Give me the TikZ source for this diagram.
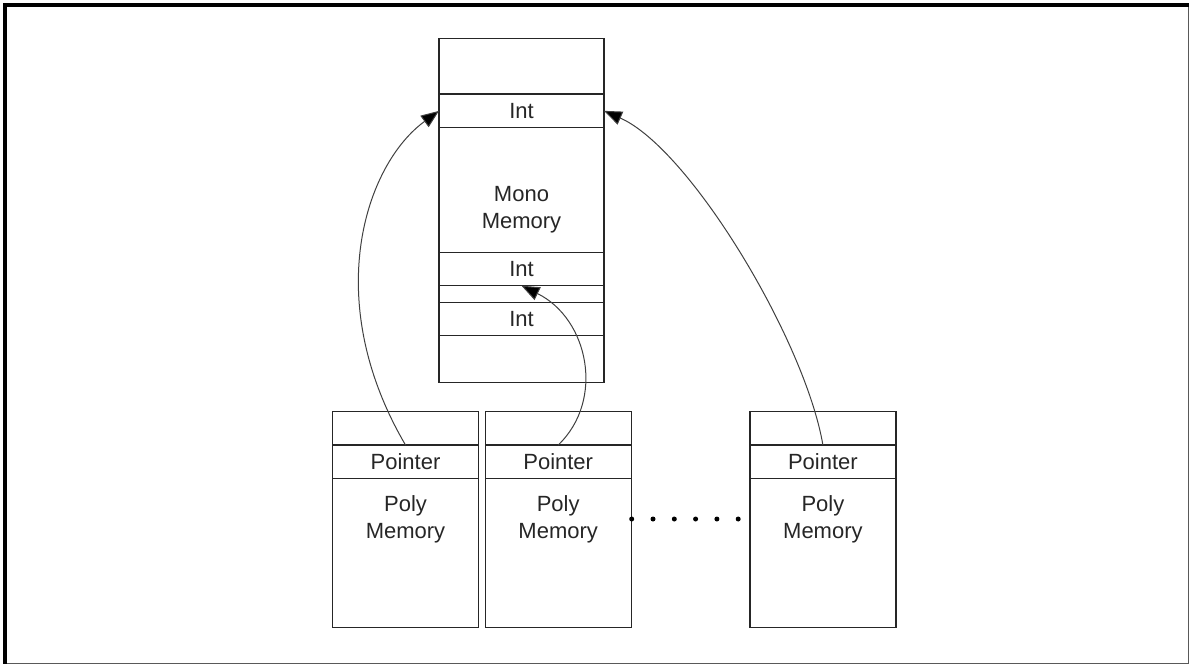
\documentclass[tikz,border=0pt]{standalone}
\usepackage{fontspec}
\setmainfont{Liberation Sans}
\usetikzlibrary{arrows.meta}
\begin{document}
\begin{tikzpicture}[x=1pt,y=-1pt,
  cell/.style={draw=black!85, line width=1.3pt, inner sep=0pt, outer sep=0pt,
    font=\fontsize{22}{27}\selectfont, text=black!85},
  monocell/.style={cell, minimum width=165pt, minimum height=#1},
  polycell/.style={cell, minimum width=146pt, minimum height=#1},
  txt/.style={font=\fontsize{22}{27}\selectfont, text=black!85, align=center, inner sep=0pt},
  link/.style={draw=black!75, line width=1pt, -{Triangle[length=18pt,width=14pt,fill=black]}},
  dots/.style={draw=black, line width=5pt, line cap=round, dash pattern=on 0pt off 21.3pt}]

% page and frame
\useasboundingbox (0,0) rectangle (1190,665);
\draw[black!65, line width=1.6pt] (5,5) rectangle (1188.5,663.5);
\draw[black, line width=4pt] (5.3,663.5) -- (5.3,4.8) -- (1188.5,4.8);

% mono memory block
\node[monocell=55.7pt]  (mtop) at (521.5,66.15) {};
\node[monocell=33.7pt]  (int1) at (521.5,110.85) {Int};
\node[monocell=124.6pt] (mono) at (521.5,190) {};
\node[txt] (monotxt) at (521.5,210) {Mono\\Memory};
\node[monocell=33.4pt]  (int2) at (521.5,269) {Int};
\node[monocell=16.6pt]  (mgap) at (521.5,294) {};
\node[monocell=33.4pt]  (int3) at (521.5,319) {Int};
\node[monocell=47pt]    (mbot) at (521.5,359.2) {};

% poly memory blocks
\foreach \i/\x in {1/405.5, 2/558.2, 3/822.9}{
  \node[polycell=33.3pt]  (ptop\i) at (\x,428.35) {};
  \node[polycell=33.3pt]  (ptr\i)  at (\x,461.65) {Pointer};
  \node[polycell=149.4pt] (pmem\i) at (\x,553) {};
  \node[txt] (ptxt\i) at (\x,519.5) {Poly\\Memory};
}

% pointers into mono memory
\draw[link] (ptr1.north) .. controls +(-85,-145) and +(-74,54) .. (int1.west);
\draw[link] (ptr2.north) .. controls +(47,-45) and +(67,33) .. (int2.south);
\draw[link] (ptr3.north) .. controls +(-18,-105) and +(86,38) .. (int1.east);

% ellipsis between poly blocks
\coordinate (dotA) at (631.7,519);
\coordinate (dotB) at (738.4,519);
\draw[dots] (dotA) -- (dotB);
\end{tikzpicture}
\end{document}
